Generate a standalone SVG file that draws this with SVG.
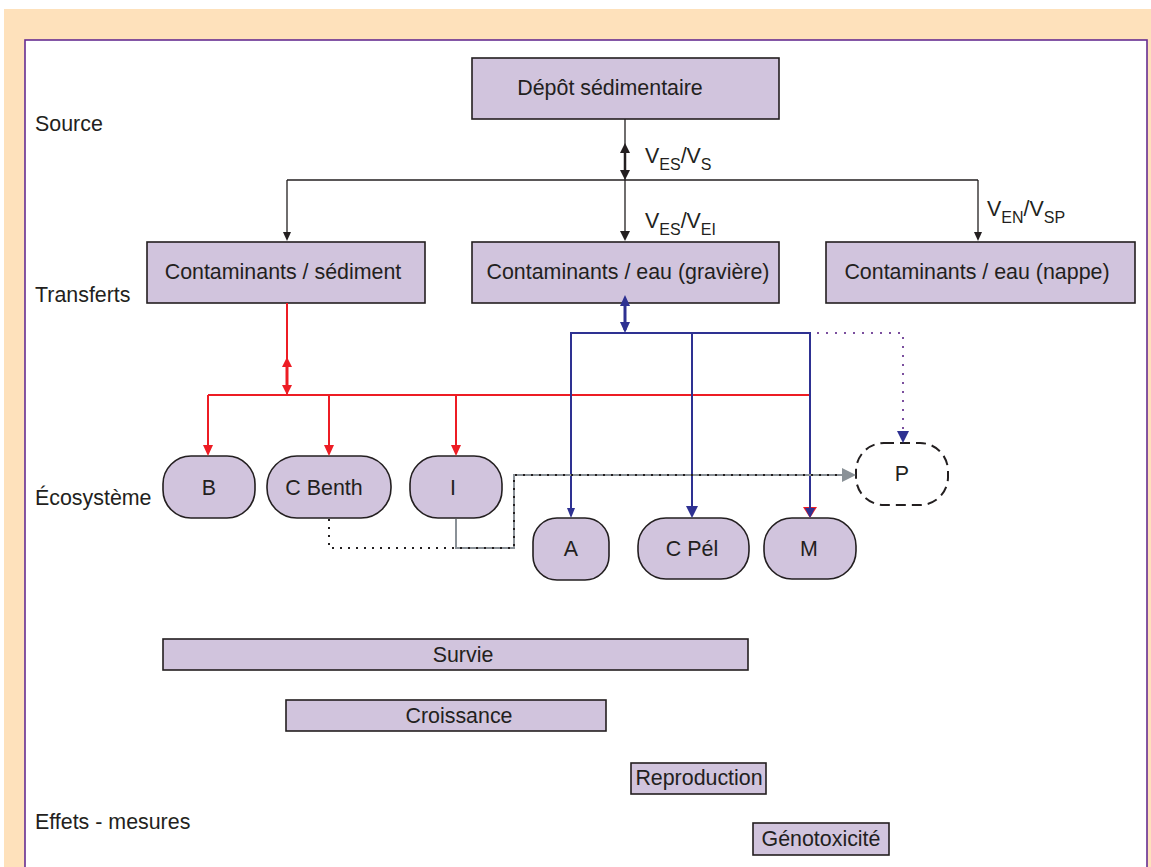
<svg xmlns="http://www.w3.org/2000/svg" width="1151" height="867" viewBox="0 0 1151 867">
<style>
text{font-family:"Liberation Sans",Arial,sans-serif;font-size:21.4px;fill:#231f20}
.c{text-anchor:middle}
.box{fill:#d1c4dd;stroke:#231f20;stroke-width:1.6}
.k{stroke:#231f20;stroke-width:1.3;fill:none}
.r{stroke:#ed1c24;stroke-width:2;fill:none}
.b{stroke:#2e3192;stroke-width:2;fill:none}
.g{stroke:#8a9197;stroke-width:2;fill:none}
.dot{stroke:#231f20;stroke-width:2;fill:none;stroke-dasharray:2 6}
.pd{stroke:#7b4f9e;stroke-width:2;fill:none;stroke-dasharray:2 7}
.sub{font-size:16px}
</style>
<rect x="0" y="0" width="1151" height="867" fill="#fff"/>
<rect x="4" y="9" width="1147" height="858" fill="#fee1bb"/>
<rect x="25" y="40" width="1122" height="840" fill="#fff" stroke="#662d91" stroke-width="1.6"/>

<g id="labels">
<text x="35" y="131">Source</text>
<text x="35" y="302">Transferts</text>
<text x="35" y="505">Écosystème</text>
<text x="35" y="829">Effets - mesures</text>
</g>

<g id="n-depot"><rect class="box" x="472" y="58" width="307" height="61"/><text class="c" x="610" y="95">Dépôt sédimentaire</text></g>
<g id="n-sed"><rect class="box" x="147" y="242" width="278" height="61"/><text class="c" x="283" y="279">Contaminants / sédiment</text></g>
<g id="n-grav"><rect class="box" x="472" y="242" width="307" height="61"/><text class="c" x="628" y="279">Contaminants / eau (gravière)</text></g>
<g id="n-nappe"><rect class="box" x="826" y="242" width="309" height="61"/><text class="c" x="977" y="279">Contaminants / eau (nappe)</text></g>

<g id="n-B"><rect class="box" x="163" y="456" width="92" height="62" rx="28"/><text class="c" x="209" y="495">B</text></g>
<g id="n-CBenth"><rect class="box" x="267" y="456" width="124" height="62" rx="30"/><text class="c" x="324" y="495">C Benth</text></g>
<g id="n-I"><rect class="box" x="410" y="456" width="92" height="62" rx="28"/><text class="c" x="453" y="495">I</text></g>
<g id="n-A"><rect class="box" x="533" y="518" width="76" height="62" rx="24"/><text class="c" x="571" y="556">A</text></g>
<g id="n-CPel"><rect class="box" x="638" y="518" width="111" height="61" rx="28"/><text class="c" x="692" y="556">C Pél</text></g>
<g id="n-M"><rect class="box" x="764" y="518" width="92" height="61" rx="28"/><text class="c" x="809" y="556">M</text></g>
<g id="n-P"><rect x="856" y="443" width="92" height="62" rx="28" fill="#fff" stroke="#231f20" stroke-width="2" stroke-dasharray="10 6"/><text class="c" x="902" y="481">P</text></g>

<g id="n-survie"><rect class="box" x="163" y="639" width="585" height="31"/><text class="c" x="463" y="662">Survie</text></g>
<g id="n-croissance"><rect class="box" x="286" y="700" width="320" height="31"/><text class="c" x="459" y="723">Croissance</text></g>
<g id="n-repro"><rect class="box" x="631" y="763" width="135" height="31"/><text class="c" x="699" y="785">Reproduction</text></g>
<g id="n-geno"><rect class="box" x="753" y="823" width="136" height="32"/><text class="c" x="821" y="846">Génotoxicité</text></g>

<g id="connectors">
<!-- black -->
<line class="k" x1="625" y1="119" x2="625" y2="231"/>
<line class="k" x1="287" y1="180" x2="978" y2="180"/>
<line class="k" x1="287" y1="180" x2="287" y2="232"/>
<line class="k" x1="978" y1="180" x2="978" y2="232"/>
<path d="M625,143 L620,153 L630,153 Z" fill="#231f20"/>
<line x1="625" y1="150" x2="625" y2="172" stroke="#231f20" stroke-width="2.5"/>
<path d="M625,180 L620,170 L630,170 Z" fill="#231f20"/>
<path d="M625,241 L620,231 L630,231 Z" fill="#231f20"/>
<path d="M287,241 L283,232 L291,232 Z" fill="#231f20"/>
<path d="M978,241 L974,232 L982,232 Z" fill="#231f20"/>
<!-- red -->
<line class="r" x1="287" y1="303" x2="287" y2="395"/>
<line x1="287" y1="362" x2="287" y2="390" stroke="#ed1c24" stroke-width="3"/>
<path d="M287,357 L282,367 L292,367 Z" fill="#ed1c24"/>
<path d="M287,395 L282,385 L292,385 Z" fill="#ed1c24"/>
<line class="r" x1="208" y1="395" x2="810" y2="395"/>
<line class="r" x1="208" y1="395" x2="208" y2="446"/>
<line class="r" x1="329" y1="395" x2="329" y2="446"/>
<line class="r" x1="456" y1="395" x2="456" y2="446"/>
<line class="r" x1="810" y1="395" x2="810" y2="510"/>
<path d="M208,456 L203,445 L213,445 Z" fill="#ed1c24"/>
<path d="M329,456 L324,445 L334,445 Z" fill="#ed1c24"/>
<path d="M456,456 L451,445 L461,445 Z" fill="#ed1c24"/>
<path d="M810,518 L803,507 L817,507 Z" fill="#ed1c24"/>
<!-- purple dotted -->
<path class="pd" d="M628,333 L903,333 L903,432"/>
<path d="M903,443 L897,431 L909,431 Z" fill="#2e3192"/>
<!-- blue -->
<line x1="625" y1="300" x2="625" y2="330" stroke="#2e3192" stroke-width="3"/>
<path d="M625,295 L620,306 L630,306 Z" fill="#2e3192"/>
<path d="M625,333 L620,322 L630,322 Z" fill="#2e3192"/>
<path class="b" d="M571,510 L571,333 L810,333 L810,508"/>
<line class="b" x1="692" y1="333" x2="692" y2="508"/>
<path d="M571,518 L567,508 L575,508 Z" fill="#2e3192"/>
<path d="M692,518 L686,506 L698,506 Z" fill="#2e3192"/>
<path d="M810,518 L805,508 L815,508 Z" fill="#2e3192"/>
<!-- gray / dotted -->
<path class="g" d="M456,519 L456,548 L514,548 L514,475 L844,475"/>
<path class="dot" d="M329,519 L329,548 L514,548 L514,475 L844,475"/>
<path d="M856,475 L842,468 L842,482 Z" fill="#8a9197"/>
</g>

<g id="edge-labels">
<text x="645" y="163">V<tspan class="sub" dy="7">ES</tspan><tspan dy="-7">/V</tspan><tspan class="sub" dy="7">S</tspan></text>
<text x="645" y="228">V<tspan class="sub" dy="7">ES</tspan><tspan dy="-7">/V</tspan><tspan class="sub" dy="7">EI</tspan></text>
<text x="987" y="216">V<tspan class="sub" dy="7">EN</tspan><tspan dy="-7">/V</tspan><tspan class="sub" dy="7">SP</tspan></text>
</g>
</svg>
